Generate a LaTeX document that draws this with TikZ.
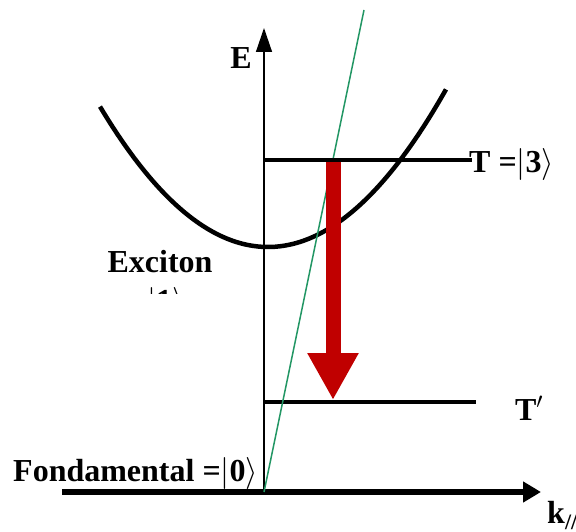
\RequirePackage{fix-cm}
\documentclass[tikz,border=0pt]{standalone}
\usepackage{fontspec}
\setmainfont{Liberation Serif}
\usetikzlibrary{arrows.meta}
\definecolor{arrowred}{RGB}{192,0,0}
\definecolor{lightgreen}{RGB}{34,150,100}
\tikzset{
  lbl/.style={font=\fontsize{32}{34}\selectfont\bfseries, inner sep=0pt},
  level/.style={line width=4pt},
  axis/.style={line width=1.4pt}
}
\newcommand{\myket}[1]{$|\mathbf{#1}\rangle$}
\begin{document}
\begin{tikzpicture}[x=1pt,y=-1pt]
\useasboundingbox (0,0) rectangle (576,532);
% coordinates
\coordinate (O) at (264,492);
\coordinate (Etop) at (264,28);
\coordinate (Kleft) at (62,492);
\coordinate (Kright) at (541,492);
\coordinate (Tl) at (264,160);
\coordinate (Tr) at (472,160);
\coordinate (Tpl) at (264,402);
\coordinate (Tpr) at (476,402);
\coordinate (Gtop) at (364,10);
\coordinate (Rtop) at (333,161);
\coordinate (Rbot) at (333,400);
% axes
\draw[axis,-{Triangle[length=24pt,width=16pt]}] (O) -- (Etop);
\draw[line width=6pt,-{Triangle[length=18pt,width=20pt]}] (Kleft) -- (Kright);
% parabola
\draw[line width=4.5pt,domain=100:446,samples=80,smooth] plot (\x,{247-0.00498*(\x-268)*(\x-268)});
% levels
\draw[level] (Tpl) -- (Tpr);
% green line
\draw[lightgreen,line width=1.5pt] (O) -- (Gtop);
% red arrow
\draw[arrowred,line width=15pt,-{Triangle[length=47pt,width=48pt]}] (Rtop) -- (Rbot);
\draw[level] (Tl) -- (Tr);
% labels
\node[lbl] (E) at (241,58) {E};
\node[lbl,anchor=west] (k) at (547,516) {k\raisebox{-6pt}{\fontsize{22}{22}\selectfont//}};
\node[lbl,anchor=west] (T) at (469,165) {T =\myket{3}};
\node[lbl] (Tp) at (529,408) {T$'$};
\node[lbl,anchor=west] (F) at (13,473) {Fondamental =\myket{0}};
\node[lbl] (X) at (160,262) {Exciton};
\begin{scope}
\clip (100,286) rectangle (240,293);
\node[lbl,anchor=base] (X1) at (166,311) {\myket{1}};
\end{scope}
\end{tikzpicture}
\end{document}
